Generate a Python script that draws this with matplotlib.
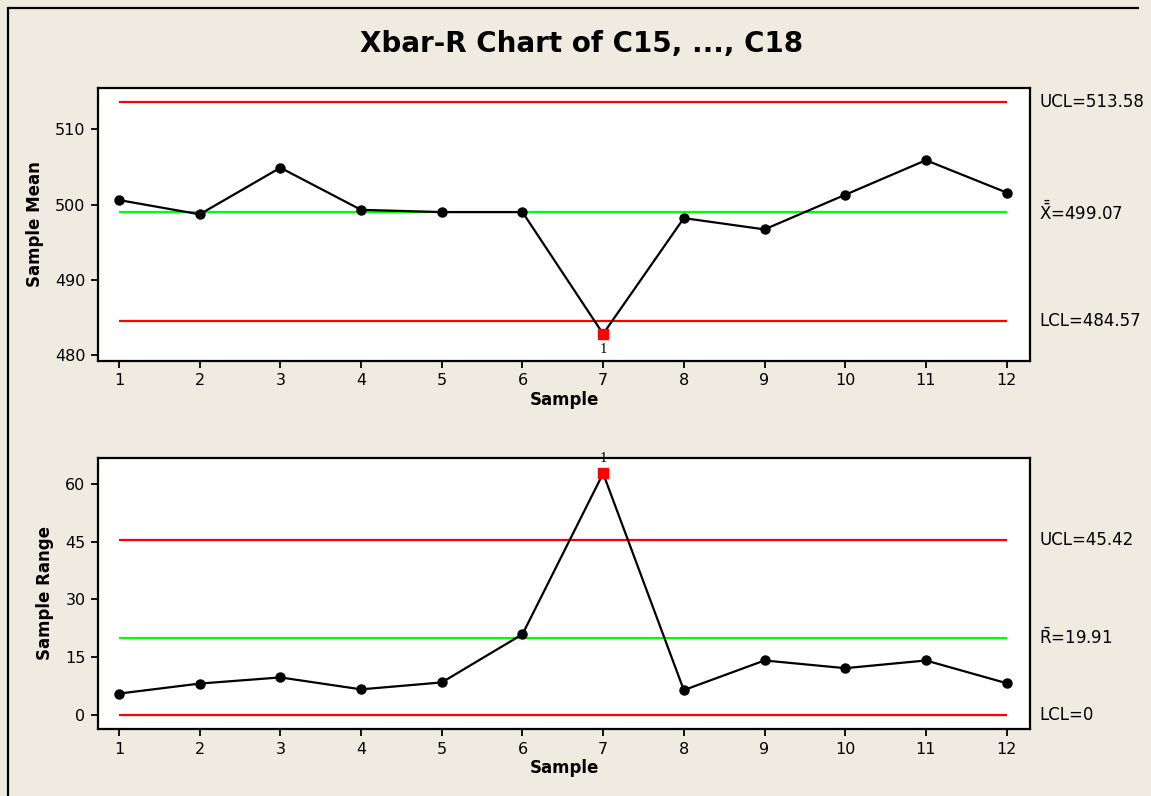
import numpy as np
import matplotlib
matplotlib.use('Agg')
import matplotlib.pyplot as plt
from matplotlib.lines import Line2D

# data: subgroup means and ranges for 12 samples
samples = list(range(1, 13))
xbar = [500.6, 498.7, 504.9, 499.3, 499.0, 499.0, 482.8, 498.2, 496.7, 501.3, 505.9, 501.6]
rng = [5.5, 8.1, 9.7, 6.6, 8.4, 20.9, 62.7, 6.4, 14.1, 12.1, 14.1, 8.2]

# control limits
xbar_ucl, xbar_cl, xbar_lcl = 513.58, 499.07, 484.57
r_ucl, r_cl, r_lcl = 45.42, 19.91, 0

xbar_ticks = [480, 490, 500, 510]
r_ticks = [0, 15, 30, 45, 60]

bg = '#efebe1'
plt.rcParams['font.family'] = ['DejaVu Sans']
plt.rcParams['mathtext.fontset'] = 'dejavusans'

fig = plt.figure(figsize=(11.51, 7.96), dpi=100)
fig.patch.set_facecolor(bg)
fig.patch.set_edgecolor(bg)

# outer frame: left and top edges
fx, fy = 8 / 1151, 1 - 8 / 796
fig.add_artist(Line2D([fx, fx], [0.001, fy], transform=fig.transFigure,
                      color='black', linewidth=1.6))
fig.add_artist(Line2D([fx, 0.99], [fy, fy], transform=fig.transFigure,
                      color='black', linewidth=1.6, solid_capstyle='butt'))

fig.text(0.505, 1 - 44 / 796, 'Xbar-R Chart of C15, ..., C18', ha='center', va='center',
         fontsize=20, fontweight='bold')


def control_panel(ax, y, ucl, cl, lcl, ylim, yticks, ylabel, labels, flag_below):
    ax.set_facecolor('white')
    ax.hlines([ucl, lcl], 1, 12, colors='#ff0000', linewidth=1.6, zorder=1)
    ax.hlines([cl], 1, 12, colors='#00ff00', linewidth=1.6, zorder=1)
    ax.plot(samples, y, color='black', linewidth=1.6, marker='o', markersize=6.5, zorder=3)

    # points beyond the limits
    for s, v in zip(samples, y):
        if v > ucl or v < lcl:
            ax.plot(s, v, marker='s', color='#ff0000', markersize=7.5, linestyle='none', zorder=4)
            off = -11 if flag_below else 11
            ax.annotate('1', (s, v), xytext=(0, off), textcoords='offset points',
                        ha='center', va='center', fontsize=10.5, family='Liberation Serif',
                        annotation_clip=False, zorder=5)

    ax.set_xlim(0.74, 12.29)
    ax.set_ylim(*ylim)
    ax.set_xticks(samples)
    ax.set_yticks(yticks)
    ax.tick_params(direction='out', length=5, width=1.3, labelsize=11.5, pad=4)
    for sp in ax.spines.values():
        sp.set_linewidth(1.6)
    ax.set_xlabel('Sample', fontsize=12, fontweight='bold', labelpad=2)
    ax.set_ylabel(ylabel, fontsize=12, fontweight='bold', labelpad=8)

    trans = ax.get_yaxis_transform()
    for val, txt in zip([ucl, cl, lcl], labels):
        ax.text(1.0097, val, txt, transform=trans, ha='left', va='center',
                fontsize=12, clip_on=False)


ax1 = fig.add_axes([98 / 1151, 1 - 361 / 796, 932 / 1151, 273 / 796])
control_panel(ax1, xbar, xbar_ucl, xbar_cl, xbar_lcl, (479.2, 515.5), xbar_ticks, 'Sample Mean',
              ['UCL=513.58', r'$\bar{\bar{\mathrm{X}}}$=499.07', 'LCL=484.57'], True)

ax2 = fig.add_axes([98 / 1151, 1 - 729 / 796, 932 / 1151, 271 / 796])
control_panel(ax2, rng, r_ucl, r_cl, r_lcl, (-3.7, 66.7), r_ticks, 'Sample Range',
              ['UCL=45.42', r'$\bar{\mathrm{R}}$=19.91', 'LCL=0'], False)

fig.savefig('out.png', dpi=100, facecolor=bg, edgecolor=bg)
